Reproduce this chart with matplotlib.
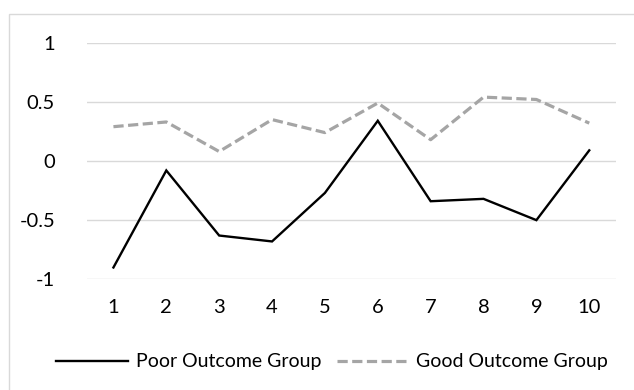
import matplotlib
matplotlib.use("Agg")
import matplotlib.pyplot as plt
from matplotlib.patches import Rectangle
from matplotlib.lines import Line2D

categories = ["1", "2", "3", "4", "5", "6", "7", "8", "9", "10"]
poor_outcome = [-0.90, -0.08, -0.63, -0.68, -0.27, 0.34, -0.34, -0.32, -0.50, 0.09]
good_outcome = [0.29, 0.33, 0.08, 0.35, 0.24, 0.49, 0.18, 0.54, 0.52, 0.32]
y_ticks = [-1, -0.5, 0, 0.5, 1]
y_tick_labels = ["-1", "-0.5", "0", "0.5", "1"]

plt.rcParams["font.family"] = ["Lato", "DejaVu Sans"]
W, H = 634, 390
fig = plt.figure(figsize=(W / 100, H / 100), dpi=100)

# chart-area frame
fig.patches.append(Rectangle((9 / W, -0.1), 2, 1 - 14 / H + 0.1, transform=fig.transFigure,
                             fill=False, edgecolor="#D9D9D9", linewidth=1.0))

ax = fig.add_axes([87 / W, 1 - 279.3 / H, (615.7 - 87) / W, (279.3 - 42.7) / H])
x = list(range(1, len(categories) + 1))

ax.set_xlim(0.5, len(categories) + 0.5)
ax.set_ylim(-1, 1)
ax.set_yticks(y_ticks)
ax.set_yticklabels(y_tick_labels)
ax.set_xticks(x)
ax.set_xticklabels(categories)
ax.yaxis.grid(True, color="#D9D9D9", linewidth=1.0)
ax.set_axisbelow(True)
for s in ax.spines.values():
    s.set_visible(False)
ax.tick_params(length=0, labelsize=14.5, colors="#000000")
ax.tick_params(axis="y", pad=23)
ax.tick_params(axis="x", pad=14)

ax.plot(x, poor_outcome, color="#000000", linewidth=1.7, solid_joinstyle="miter",
        label="Poor Outcome Group", clip_on=False)
ax.plot(x, good_outcome, color="#A5A5A5", linewidth=2.3, dashes=(3.2, 1.4),
        label="Good Outcome Group", clip_on=False)

h1 = Line2D([], [], color="#000000", linewidth=1.7)
h2 = Line2D([], [], color="#A5A5A5", linewidth=2.3, dashes=(3.2, 1.4))
fig.legend([h1, h2], ["Poor Outcome Group", "Good Outcome Group"], ncol=2,
           loc="center", bbox_to_anchor=(332 / W, 1 - 362 / H), frameon=False,
           fontsize=14, handlelength=3.7, handletextpad=0.4, columnspacing=0.8)

fig.savefig("out.png", dpi=100, facecolor="white")
